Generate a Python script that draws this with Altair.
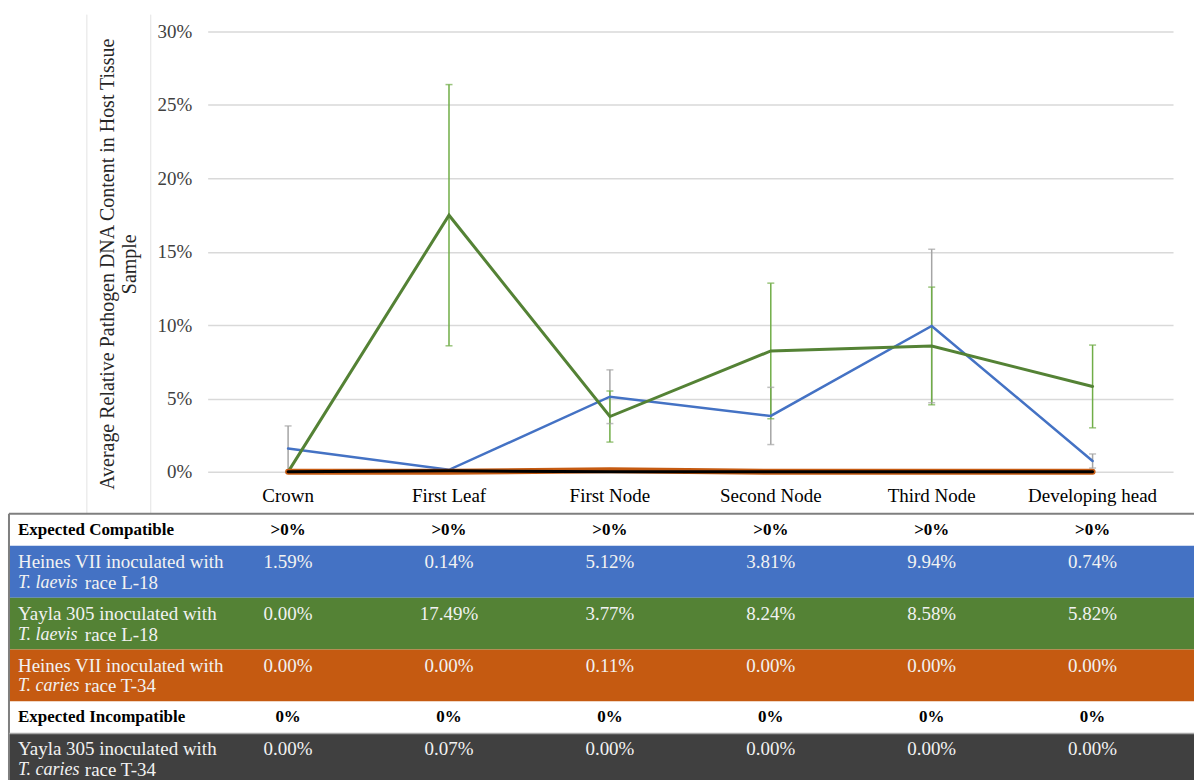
import altair as alt
import pandas as pd

# Tissue sampled along the plant
categories = ["Crown", "First Leaf", "First Node", "Second Node", "Third Node", "Developing head"]

# Average relative pathogen DNA content (%) per treatment
heines_laevis = [1.59, 0.14, 5.12, 3.81, 9.94, 0.74]
yayla_laevis = [0.00, 17.49, 3.77, 8.24, 8.58, 5.82]
heines_caries = [0.00, 0.00, 0.11, 0.00, 0.00, 0.00]
yayla_caries = [0.00, 0.07, 0.00, 0.00, 0.00, 0.00]

# Error bar half-widths (%), None where no bar is drawn
heines_laevis_err = [1.54, None, 1.83, 1.95, 5.23, 0.48]
yayla_laevis_err = [None, 8.90, 1.74, 4.62, 4.01, 2.82]

# Expected outcome rows of the table
expected_compatible = [">0%", ">0%", ">0%", ">0%", ">0%", ">0%"]
expected_incompatible = ["0%", "0%", "0%", "0%", "0%", "0%"]

series_keys = ["heines_laevis", "yayla_laevis", "heines_caries", "yayla_caries"]
series_host = ["Heines VII inoculated with", "Yayla 305 inoculated with",
               "Heines VII inoculated with", "Yayla 305 inoculated with"]
series_strain = ["T. laevis", "T. laevis", "T. caries", "T. caries"]
series_race = ["race L-18", "race L-18", "race T-34", "race T-34"]
series_values = [heines_laevis, yayla_laevis, heines_caries, yayla_caries]
series_colors = ["#4472C4", "#548235", "#C55A11", "#000000"]
series_widths = [2.5, 3, 6, 3]
error_colors = {"heines_laevis": "#A5A5A5", "yayla_laevis": "#70AD47"}
error_values = {"heines_laevis": heines_laevis_err, "yayla_laevis": yayla_laevis_err}

SERIF = "Liberation Serif"
FS = 19
FS_BOLD = 17
FS_ITALIC = 18
PLOT_W, PLOT_H = 967, 441
TABLE_H = 309

x_scale = alt.Scale(domain=categories, type="point", padding=0.5)
y_scale = alt.Scale(domain=[0, 30])
y_axis = alt.Axis(
    values=[0, 5, 10, 15, 20, 25, 30],
    labelExpr="datum.value + '%'",
    title=["Average Relative Pathogen DNA Content in Host Tissue", "Sample"],
    grid=True, gridColor="#D9D9D9", gridWidth=1.5,
    domain=False, ticks=False,
    labelFont=SERIF, labelFontSize=FS, labelColor="#404040", labelPadding=16,
    titleFont=SERIF, titleFontSize=20, titleFontWeight="normal", titleColor="#262626",
    titlePadding=17, titleLineHeight=22, titleY=PLOT_H / 2 + 12,
)


def yenc(field):
    return alt.Y(f"{field}:Q", scale=y_scale, axis=y_axis)


xenc = alt.X("tissue:N", scale=x_scale, axis=None, sort=categories)

# ---- line chart -------------------------------------------------------------
line_rows = []
for key, vals in zip(series_keys, series_values):
    for t, v in zip(categories, vals):
        line_rows.append({"series": key, "tissue": t, "value": v})
line_df = pd.DataFrame(line_rows)

err_rows = []
for key, errs in error_values.items():
    vals = series_values[series_keys.index(key)]
    for t, v, e in zip(categories, vals, errs):
        if e is None:
            continue
        err_rows.append({"series": key, "tissue": t, "value": v,
                         "lo": max(v - e, 0), "hi": v + e, "ecolor": error_colors[key]})
err_df = pd.DataFrame(err_rows)

# faint frame lines of the surrounding layout
frame = alt.Chart(pd.DataFrame({"k": [0]}))
frame_layers = [
    frame.mark_rule(color="#E3E3E3", strokeWidth=1).encode(
        x=alt.value(xv), y=alt.value(-17), y2=alt.value(PLOT_H + 42))
    for xv in (-121, -57)
]

err_rule = alt.Chart(err_df).mark_rule(strokeWidth=1.5).encode(
    x=xenc, y=yenc("lo"), y2="hi:Q", color=alt.Color("ecolor:N", scale=None))
err_cap_hi = alt.Chart(err_df).mark_tick(size=7, thickness=1.5).encode(
    x=xenc, y=yenc("hi"), color=alt.Color("ecolor:N", scale=None))
err_cap_lo = alt.Chart(err_df[err_df["lo"] > 0.2]).mark_tick(size=7, thickness=1.5).encode(
    x=xenc, y=yenc("lo"), color=alt.Color("ecolor:N", scale=None))

line_layers = []
for key, col, w in zip(series_keys, series_colors, series_widths):
    line_layers.append(
        alt.Chart(line_df[line_df["series"] == key]).mark_line(
            color=col, strokeWidth=w, strokeCap="round", strokeJoin="miter"
        ).encode(x=xenc, y=yenc("value"))
    )

top = alt.layer(*frame_layers, err_rule, err_cap_hi, err_cap_lo, *line_layers).properties(
    width=PLOT_W, height=PLOT_H)

# ---- data table ---------------------------------------------------------------
HEADER_H = 42
row_lines = [1, 2, 2, 2, 1, 2]
row_fill = ["#FFFFFF", series_colors[0], series_colors[1], series_colors[2], "#FFFFFF", "#404040"]
row_line1 = ["Expected Compatible"] + series_host[:3] + ["Expected Incompatible"] + series_host[3:]
row_strain = [""] + series_strain[:3] + [""] + series_strain[3:]
row_race = [""] + series_race[:3] + [""] + series_race[3:]
row_cells = [expected_compatible] + [[f"{v:.2f}%" for v in s] for s in series_values[:3]] + \
            [expected_incompatible] + [[f"{v:.2f}%" for v in series_values[3]]]
row_header = [True, False, False, False, True, False]

rows, cells = [], []
top_y = HEADER_H
for i in range(len(row_lines)):
    h = 12 + 20 * row_lines[i]
    rows.append({
        "row": i, "top": top_y, "bottom": min(top_y + h, TABLE_H),
        "y1": top_y + 16, "y2": top_y + 37,
        "line1": row_line1[i], "strain": row_strain[i], "race": row_race[i],
        "fill": row_fill[i], "ink": "#000000" if row_header[i] else "#F2F2F2",
        "header": row_header[i],
    })
    for t, c in zip(categories, row_cells[i]):
        cells.append({"row": i, "tissue": t, "text": c, "y1": top_y + 16,
                      "ink": "#000000" if row_header[i] else "#F2F2F2",
                      "header": row_header[i]})
    top_y += h
rows_df = pd.DataFrame(rows)
cells_df = pd.DataFrame(cells)
cat_df = pd.DataFrame({"tissue": categories, "y": [24] * len(categories)})

ty_scale = alt.Scale(domain=[0, TABLE_H], reverse=True)


def tyenc(field):
    return alt.Y(f"{field}:Q", scale=ty_scale, axis=None)


LEFT = -199
RIGHT = 988

row_bg = alt.Chart(rows_df).mark_rect().encode(
    x=alt.value(LEFT), x2=alt.value(RIGHT), y=tyenc("top"), y2="bottom:Q",
    color=alt.Color("fill:N", scale=None))

cat_text = alt.Chart(cat_df).mark_text(font=SERIF, fontSize=FS, color="#000000").encode(
    x=xenc, y=tyenc("y"), text="tissue:N")

text_layers = []
for hdr, weight, size in ((True, "bold", FS_BOLD), (False, "normal", FS)):
    rsub = rows_df[rows_df["header"] == hdr]
    csub = cells_df[cells_df["header"] == hdr]
    text_layers.append(alt.Chart(rsub).mark_text(
        font=SERIF, fontSize=size, fontWeight=weight, align="left").encode(
        x=alt.value(LEFT + 9), y=tyenc("y1"), text="line1:N",
        color=alt.Color("ink:N", scale=None)))
    text_layers.append(alt.Chart(csub).mark_text(
        font=SERIF, fontSize=size, fontWeight=weight).encode(
        x=xenc, y=tyenc("y1"), text="text:N", color=alt.Color("ink:N", scale=None)))

drows = rows_df[rows_df["strain"] != ""]
strain_text = alt.Chart(drows).mark_text(
    font=SERIF, fontSize=FS_ITALIC, fontStyle="italic", align="left").encode(
    x=alt.value(LEFT + 9), y=tyenc("y2"), text="strain:N", color=alt.Color("ink:N", scale=None))
race_text = alt.Chart(drows).mark_text(
    font=SERIF, fontSize=FS, align="left", dx=67).encode(
    x=alt.value(LEFT + 9), y=tyenc("y2"), text="race:N", color=alt.Color("ink:N", scale=None))

first = rows_df.iloc[[0]]
top_border = alt.Chart(first).mark_rule(color="#7F7F7F", strokeWidth=2).encode(
    x=alt.value(LEFT), x2=alt.value(RIGHT), y=tyenc("top"))
left_border = alt.Chart(first).mark_rule(color="#7F7F7F", strokeWidth=2).encode(
    x=alt.value(LEFT), y=tyenc("top"), y2=alt.value(TABLE_H))
sep = alt.Chart(rows_df[rows_df["row"] == 4]).mark_rule(color="#A6A6A6", strokeWidth=1.5).encode(
    x=alt.value(LEFT), x2=alt.value(RIGHT), y=tyenc("bottom"))

table = alt.layer(row_bg, cat_text, *text_layers, strain_text, race_text,
                  top_border, left_border, sep).properties(width=PLOT_W, height=TABLE_H)

chart = alt.vconcat(top, table, spacing=0, bounds="flush").properties(
    padding={"left": 8, "top": 13, "right": 0, "bottom": 0}
).configure_view(strokeWidth=0)

chart.save("out.html", embed_options={"renderer": "svg", "actions": False})
